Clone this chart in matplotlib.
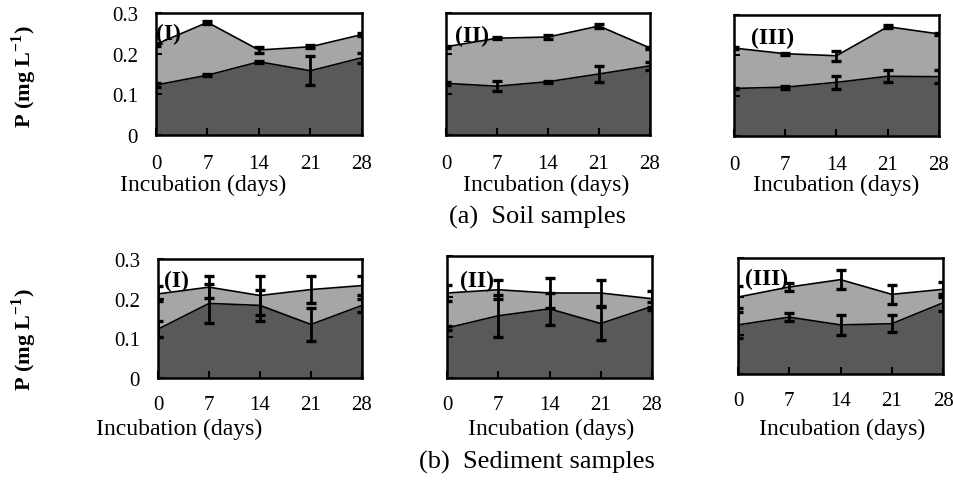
import matplotlib
matplotlib.use("Agg")
import matplotlib.pyplot as plt

plt.rcParams['font.family'] = ['Liberation Serif', 'DejaVu Serif']
plt.rcParams['mathtext.fontset'] = 'custom'
plt.rcParams['mathtext.rm'] = 'Liberation Serif'
plt.rcParams['mathtext.bf'] = 'Liberation Serif:bold'

days = [0, 7, 14, 21, 28]
panel_names = ["(I)", "(II)", "(III)"]

# soil samples: upper boundary and lower boundary (mg/L) with error bars
soil_high = [[0.223, 0.277, 0.209, 0.217, 0.247],
             [0.217, 0.238, 0.241, 0.268, 0.214],
             [0.218, 0.204, 0.199, 0.271, 0.253]]
soil_high_err = [[0.004, 0.004, 0.007, 0.004, 0.003],
                 [0.003, 0.002, 0.004, 0.005, 0.003],
                 [0.002, 0.002, 0.012, 0.004, 0.003]]
soil_low = [[0.123, 0.147, 0.180, 0.158, 0.190],
            [0.127, 0.120, 0.131, 0.150, 0.170],
            [0.118, 0.121, 0.133, 0.148, 0.147]]
soil_low_err = [[0.006, 0.003, 0.003, 0.036, 0.012],
                [0.004, 0.013, 0.002, 0.020, 0.010],
                [0.002, 0.004, 0.017, 0.015, 0.016]]

# sediment samples
sed_high = [[0.212, 0.229, 0.208, 0.223, 0.233],
            [0.209, 0.217, 0.209, 0.209, 0.195],
            [0.199, 0.225, 0.244, 0.206, 0.219]]
sed_high_err = [[0.019, 0.027, 0.050, 0.033, 0.023],
                [0.020, 0.023, 0.038, 0.033, 0.020],
                [0.028, 0.011, 0.025, 0.024, 0.020]]
sed_low = [[0.123, 0.188, 0.183, 0.135, 0.183],
           [0.123, 0.153, 0.170, 0.134, 0.176],
           [0.127, 0.147, 0.127, 0.130, 0.184]]
sed_low_err = [[0.020, 0.050, 0.039, 0.041, 0.016],
               [0.005, 0.052, 0.039, 0.041, 0.010],
               [0.034, 0.010, 0.025, 0.022, 0.022]]

W, H = 954, 481
LIGHT = '#a6a6a6'
DARK = '#595959'

fig = plt.figure(figsize=(W / 100, H / 100), dpi=100)


def px_axes(l, t, r, b):
    return fig.add_axes([l / W, 1 - b / H, (r - l) / W, (b - t) / H])


def draw_panel(ax, high, high_err, low, low_err, name, name_xy, show_y,
               xlab_xy, tick_pad):
    ax.fill_between(days, 0, low, color=DARK, lw=0)
    ax.fill_between(days, low, high, color=LIGHT, lw=0)
    ax.plot(days, high, color='black', lw=1.2)
    ax.plot(days, low, color='black', lw=1.2)
    for y, e in [(high, high_err), (low, low_err)]:
        ax.errorbar(days, y, yerr=e, fmt='none', ecolor='black',
                    elinewidth=2.0, capsize=3.8, capthick=2.4)
    ax.set_xlim(0, 28)
    ax.set_ylim(0, 0.3)
    ax.set_xticks(days)
    ax.set_yticks([0, 0.1, 0.2, 0.3])
    ax.set_yticklabels(['0', '0.1', '0.2', '0.3'] if show_y else [])
    ax.tick_params(axis='x', direction='in', length=5, width=1.5,
                   labelsize=15, pad=tick_pad)
    ax.tick_params(axis='y', direction='in', length=4, width=1.5,
                   labelsize=15, pad=13)
    for s in ax.spines.values():
        s.set_linewidth(1.8)
    ax.text(name_xy[0], name_xy[1], name, fontsize=17, fontweight='bold',
            ha='left', va='center')
    ax.set_xlabel('Incubation (days)', fontsize=17)
    ax.xaxis.label.set_va('center')
    ax.xaxis.set_label_coords(*xlab_xy)


# pixel boxes: left, top, right, bottom
top_boxes = [(156, 14, 362, 136), (446, 14, 650, 136), (734, 16, 939, 137)]
bot_boxes = [(158, 260, 362, 379), (447, 257, 652, 379), (738, 259, 943, 375)]
top_xlab = [(203, 185), (546, 185), (836, 185)]
bot_xlab = [(179, 429), (551, 429), (842, 429)]
top_names = [(0.0, 0.25), (1.3, 0.245), (2.3, 0.245)]
bot_names = [(0.8, 0.247), (1.8, 0.24), (0.9, 0.247)]

for i in range(3):
    for boxes, xl, names, hi, hie, lo, loe, pad in [
            (top_boxes, top_xlab, top_names, soil_high, soil_high_err,
             soil_low, soil_low_err, 14),
            (bot_boxes, bot_xlab, bot_names, sed_high, sed_high_err,
             sed_low, sed_low_err, 12)]:
        l, t, r, b = boxes[i]
        ax = px_axes(l, t, r, b)
        lab = ((xl[i][0] - l) / (r - l), -(xl[i][1] - b) / (b - t))
        draw_panel(ax, hi[i], hie[i], lo[i], loe[i], panel_names[i],
                   names[i], i == 0, lab, pad)

ylab = r'P (mg L$^{\mathbf{-1}}$)'
fig.text(24 / W, 1 - 77 / H, ylab, rotation=90, fontsize=16,
         fontweight='bold', ha='center', va='center')
fig.text(24 / W, 1 - 340 / H, ylab, rotation=90, fontsize=16,
         fontweight='bold', ha='center', va='center')
fig.text(538 / W, 1 - 217 / H, '(a)  Soil samples', fontsize=19,
         ha='center', va='center')
fig.text(537 / W, 1 - 462 / H, '(b)  Sediment samples', fontsize=19,
         ha='center', va='center')

fig.savefig('out.png', dpi=100)
